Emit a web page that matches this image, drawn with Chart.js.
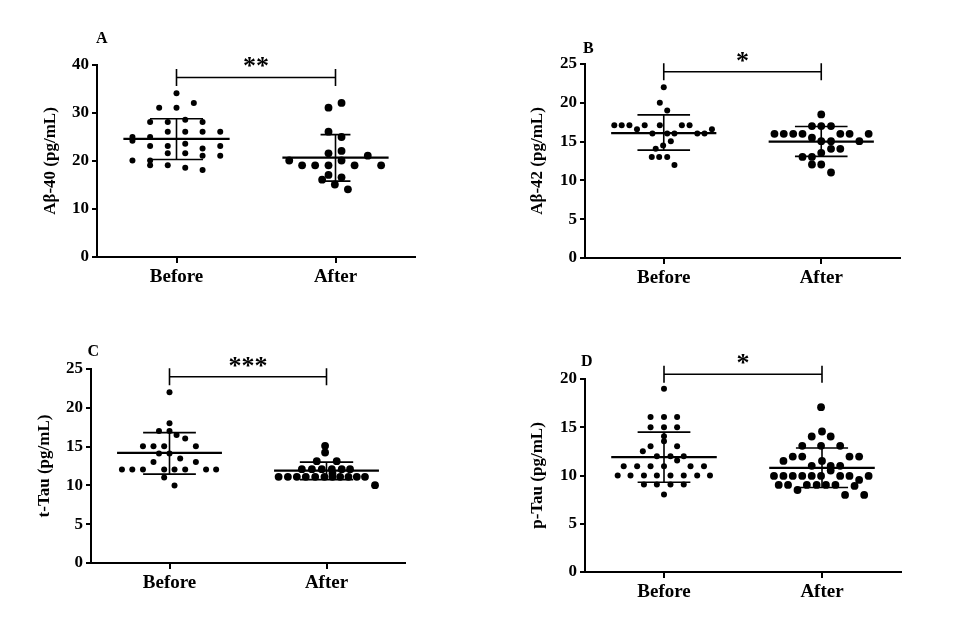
<!DOCTYPE html>
<html>
<head>
<meta charset="utf-8">
<script src="https://cdn.jsdelivr.net/npm/chart.js@4.4.1/dist/chart.umd.min.js"></script>
<style>
  body { margin: 0; background: #fff; width: 960px; height: 619px; position: relative; overflow: hidden; }
  canvas { position: absolute; }
</style>
</head>
<body>
<canvas id="chartA"></canvas>
<canvas id="chartB"></canvas>
<canvas id="chartC"></canvas>
<canvas id="chartD"></canvas>
<script>
/* ===============================
   DATA
================================= */
const groups = ["Before", "After"];
const yTitles = ["Aβ-40 (pg/mL)", "Aβ-42 (pg/mL)", "t-Tau (pg/mL)", "p-Tau (pg/mL)"];
const panelLetters = ["A", "B", "C", "D"];
const yMax = [40, 25, 25, 20];
const yStep = [10, 5, 5, 5];
const stars = ["**", "*", "***", "*"];
const bracketLevel = [37.4, 24, 24, 20.5];

// group means and mean +/- SD, [before, after]
const means = [[24.6, 20.7], [16.1, 15.0], [14.2, 11.9], [11.9, 10.8]];
const sdHigh = [[28.8, 25.5], [18.45, 16.95], [16.8, 13.0], [14.5, 12.85]];
const sdLow = [[20.3, 15.8], [13.9, 13.1], [11.45, 10.75], [9.3, 8.75]];

// individual values
const ab40Before = [34.1, 31.1, 31.1, 32.1, 28.1, 28.1, 28.6, 28.1, 26.1, 26.1, 26.1, 26.1, 25.0, 24.2, 25.0,
  23.1, 23.1, 23.6, 22.6, 23.1, 21.6, 21.6, 21.1, 21.1, 20.1, 20.1, 19.1, 19.1, 18.6, 18.1];
const ab40After = [32.1, 31.1, 26.1, 25.0, 22.1, 21.6, 21.1, 20.1, 20.1, 19.1, 19.1, 19.1, 19.1, 19.1,
  17.1, 16.6, 16.1, 15.1, 14.1];
const ab42Before = [22.0, 20.0, 19.0, 17.1, 17.1, 17.1, 16.6, 17.1, 17.1, 17.1, 17.1, 16.05, 16.05, 16.05,
  16.05, 16.05, 16.6, 15.05, 14.5, 14.07, 13.03, 13.03, 13.03, 12.0];
const ab42After = [18.5, 17.0, 17.0, 17.0, 16.0, 16.0, 16.0, 16.0, 16.0, 16.0, 16.0, 15.5, 15.06, 15.06,
  15.06, 14.07, 14.07, 13.55, 13.03, 13.03, 12.05, 12.05, 11.02];
const tTauBefore = [22, 18, 17, 17, 16.5, 16.05, 15.06, 15.06, 15.06, 15.06, 14.1, 14.1, 13.03, 13.47, 13.03,
  12.05, 12.05, 12.05, 12.05, 12.05, 12.05, 12.05, 12.05, 11.02, 10.0];
const tTauAfter = [15.1, 14.24, 13.12, 13.12, 12.09, 12.09, 12.09, 12.09, 12.09, 12.09,
  11.1, 11.1, 11.1, 11.1, 11.1, 11.1, 11.1, 11.1, 11.1, 11.1, 11.1, 11.5, 10.03];
const pTauBefore = [19.0, 16.05, 16.05, 16.05, 15.0, 15.0, 15.0, 14.08, 13.56, 13.04, 13.04, 12.52,
  12.0, 12.0, 12.0, 11.55, 10.96, 10.96, 10.96, 10.96, 10.96, 10.96,
  9.99, 9.99, 9.99, 9.99, 9.99, 9.99, 9.99, 9.99, 9.06, 9.06, 9.06, 9.06, 8.02];
const pTauAfter = [17.08, 14.56, 14.04, 14.04, 13.07, 13.07, 13.07, 11.96, 11.96, 11.96, 11.96, 11.51, 11.51,
  11.0, 11.0, 11.0, 10.51, 9.96, 9.96, 9.96, 9.96, 9.96, 9.96, 9.96, 9.96, 9.96, 9.54, 8.92,
  9.02, 9.02, 9.02, 9.02, 9.02, 9.02, 8.5, 7.99, 7.99];

// horizontal spread of each dot from its group centre (x-axis units)
const ab40BeforeJitter = [0, -0.109, 0, 0.109, -0.166, -0.055, 0.055, 0.164, -0.055, 0.055, 0.164, 0.275, -0.277, -0.277, -0.166,
  -0.166, -0.055, 0.055, 0.164, 0.275, -0.055, 0.055, 0.164, 0.275, -0.277, -0.166, -0.166, -0.055, 0.055, 0.164];
const ab40AfterJitter = [0.038, -0.044, -0.044, 0.038, 0.038, -0.044, 0.203, -0.291, 0.038, -0.21, -0.128, -0.044, 0.12, 0.287,
  -0.044, 0.038, -0.084, -0.004, 0.078];
const ab42BeforeJitter = [0, -0.025, 0.022, -0.314, -0.267, -0.218, -0.17, -0.121, -0.025, 0.115, 0.164, -0.072, 0.022, 0.068,
  0.213, 0.259, 0.306, 0.045, -0.004, -0.051, -0.076, -0.029, 0.022, 0.068];
const ab42AfterJitter = [0, -0.059, 0, 0.062, -0.297, -0.238, -0.178, -0.119, 0.121, 0.18, 0.301, -0.059, 0, 0.062,
  0.242, 0.062, 0.121, 0, -0.119, -0.059, -0.059, 0, 0.062];
const tTauBeforeJitter = [0, 0, -0.067, 0, 0.045, 0.1, -0.169, -0.102, -0.034, 0.168, -0.067, 0, -0.102, 0.068, 0.168,
  -0.303, -0.237, -0.169, -0.034, 0.032, 0.1, 0.233, 0.297, -0.034, 0.032];
const tTauAfterJitter = [-0.009, -0.009, -0.062, 0.065, -0.157, -0.093, -0.03, 0.034, 0.097, 0.15,
  -0.305, -0.246, -0.189, -0.132, -0.072, -0.013, 0.038, 0.087, 0.14, 0.193, 0.245, 0.038, 0.309];
const pTauBeforeJitter = [0, -0.085, 0, 0.083, -0.085, 0, 0.083, 0, 0, -0.085, 0.083, -0.134,
  -0.045, 0.041, 0.125, 0.083, -0.255, -0.17, -0.085, 0, 0.168, 0.253,
  -0.293, -0.212, -0.127, -0.045, 0.041, 0.125, 0.21, 0.291, -0.127, -0.045, 0.041, 0.125, 0];
const pTauAfterJitter = [-0.006, 0, -0.065, 0.055, -0.125, -0.006, 0.115, -0.185, -0.125, 0.174, 0.235, -0.244, 0,
  -0.065, 0.055, 0.115, 0.055, -0.304, -0.244, -0.185, -0.125, -0.065, -0.006, 0.115, 0.174, 0.295, 0.235, 0.206,
  -0.274, -0.215, -0.096, -0.034, 0.025, 0.085, -0.155, 0.146, 0.267];

const panelValues = [[ab40Before, ab40After], [ab42Before, ab42After], [tTauBefore, tTauAfter], [pTauBefore, pTauAfter]];
const panelJitter = [[ab40BeforeJitter, ab40AfterJitter], [ab42BeforeJitter, ab42AfterJitter],
  [tTauBeforeJitter, tTauAfterJitter], [pTauBeforeJitter, pTauAfterJitter]];

/* ===============================
   LAYOUT / STYLE
================================= */
const FONT = "'Liberation Serif', 'Times New Roman', serif";
// canvas box, chart-area padding, axis sizes, title offset, letter offset
const panels = [
  { id: "chartA", left: 20, top: 20, width: 410, height: 277, padTop: 45, yWidth: 77, titlePad: 20, letter: [4.7, -26], caps: [0.167, 0.094] },
  { id: "chartB", left: 500, top: 20, width: 415, height: 278, padTop: 44, yWidth: 85, titlePad: 27, letter: [3.3, -15.5], caps: [0.167, 0.167] },
  { id: "chartC", left: 10, top: 320, width: 410, height: 283, padTop: 49, yWidth: 81, titlePad: 24, letter: [2.3, -17.5], caps: [0.168, 0.17] },
  { id: "chartD", left: 500, top: 330, width: 416, height: 282, padTop: 49, yWidth: 85, titlePad: 27, letter: [1.7, -17.5], caps: [0.167, 0.165] },
];
const MEAN_HALF = 0.334;
const X_AXIS_HEIGHT = 40;

/* ===============================
   PLUGIN: significance bracket + panel letter
================================= */
const annotate = {
  id: "annotate",
  afterDraw(chart, args, opts) {
    const { ctx, chartArea, scales: { x, y } } = chart;
    const yl = y.getPixelForValue(opts.level);
    const x1 = x.getPixelForValue(1);
    const x2 = x.getPixelForValue(2);
    ctx.save();
    ctx.strokeStyle = "#000";
    ctx.lineWidth = 1.6;
    ctx.beginPath();
    ctx.moveTo(x1, yl); ctx.lineTo(x2, yl);
    ctx.moveTo(x1, yl - 8.5); ctx.lineTo(x1, yl + 8.5);
    ctx.moveTo(x2, yl - 8.5); ctx.lineTo(x2, yl + 8.5);
    ctx.stroke();
    ctx.fillStyle = "#000";
    ctx.textAlign = "center";
    ctx.textBaseline = "alphabetic";
    ctx.font = "bold 26px " + FONT;
    ctx.fillText(opts.stars, (x1 + x2) / 2, yl - 3);
    ctx.textBaseline = "middle";
    ctx.font = "bold 16px " + FONT;
    ctx.fillText(opts.letter, chartArea.left + opts.dx, chartArea.top + opts.dy);
    ctx.restore();
  },
};

/* ===============================
   BUILD CHARTS
================================= */
function buildPanel(i) {
  const p = panels[i];
  const canvas = document.getElementById(p.id);
  canvas.width = p.width;
  canvas.height = p.height;
  canvas.style.left = p.left + "px";
  canvas.style.top = p.top + "px";

  const pointSets = [0, 1].map(g => panelValues[i][g].map((v, k) => ({ x: g + 1 + panelJitter[i][g][k], y: v })));

  const meanLines = [];
  const sdLines = [];
  [0, 1].forEach(g => {
    const cx = g + 1;
    const cap = p.caps[g];
    meanLines.push({ x: cx - MEAN_HALF, y: means[i][g] }, { x: cx + MEAN_HALF, y: means[i][g] }, { x: cx, y: null });
    sdLines.push(
      { x: cx, y: sdLow[i][g] }, { x: cx, y: sdHigh[i][g] }, { x: cx, y: null },
      { x: cx - cap, y: sdHigh[i][g] }, { x: cx + cap, y: sdHigh[i][g] }, { x: cx, y: null },
      { x: cx - cap, y: sdLow[i][g] }, { x: cx + cap, y: sdLow[i][g] }, { x: cx, y: null }
    );
  });

  return new Chart(canvas, {
    type: "scatter",
    data: {
      datasets: [
        { data: meanLines, showLine: true, borderColor: "#000", borderWidth: 2.2, pointRadius: 0, spanGaps: false },
        { data: sdLines, showLine: true, borderColor: "#000", borderWidth: 1.6, pointRadius: 0, spanGaps: false },
        { label: groups[0], data: pointSets[0], pointRadius: 3, backgroundColor: "#000", borderWidth: 0, pointHoverRadius: 3 },
        { label: groups[1], data: pointSets[1], pointRadius: 3.9, backgroundColor: "#000", borderWidth: 0, pointHoverRadius: 3.9 },
      ],
    },
    options: {
      responsive: false,
      animation: false,
      events: [],
      layout: { padding: { top: p.padTop, right: 15, left: 0, bottom: 0 } },
      plugins: {
        legend: { display: false },
        tooltip: { enabled: false },
        annotate: { level: bracketLevel[i], stars: stars[i], letter: panelLetters[i], dx: p.letter[0], dy: p.letter[1] },
      },
      scales: {
        x: {
          type: "linear",
          min: 0.5,
          max: 2.5,
          afterBuildTicks: s => { s.ticks = [{ value: 1 }, { value: 2 }]; },
          afterFit: s => { s.height = X_AXIS_HEIGHT; },
          ticks: {
            callback: v => groups[v - 1],
            color: "#000",
            font: { family: FONT, size: 19, weight: "bold" },
            padding: 3,
            maxRotation: 0,
            autoSkip: false,
          },
          grid: { drawOnChartArea: false, tickLength: 6, color: "#000", lineWidth: 2 },
          border: { color: "#000", width: 2 },
        },
        y: {
          min: 0,
          max: yMax[i],
          afterFit: s => { s.width = p.yWidth; },
          ticks: {
            stepSize: yStep[i],
            color: "#000",
            font: { family: FONT, size: 17, weight: "bold" },
            padding: 3,
          },
          grid: { drawOnChartArea: false, tickLength: 5, color: "#000", lineWidth: 2 },
          border: { color: "#000", width: 2 },
          title: {
            display: true,
            text: yTitles[i],
            color: "#000",
            font: { family: FONT, size: 17, weight: "bold" },
            padding: { top: p.titlePad, bottom: 0 },
          },
        },
      },
    },
    plugins: [annotate],
  });
}

panels.forEach((p, i) => buildPanel(i));
</script>
</body>
</html>
